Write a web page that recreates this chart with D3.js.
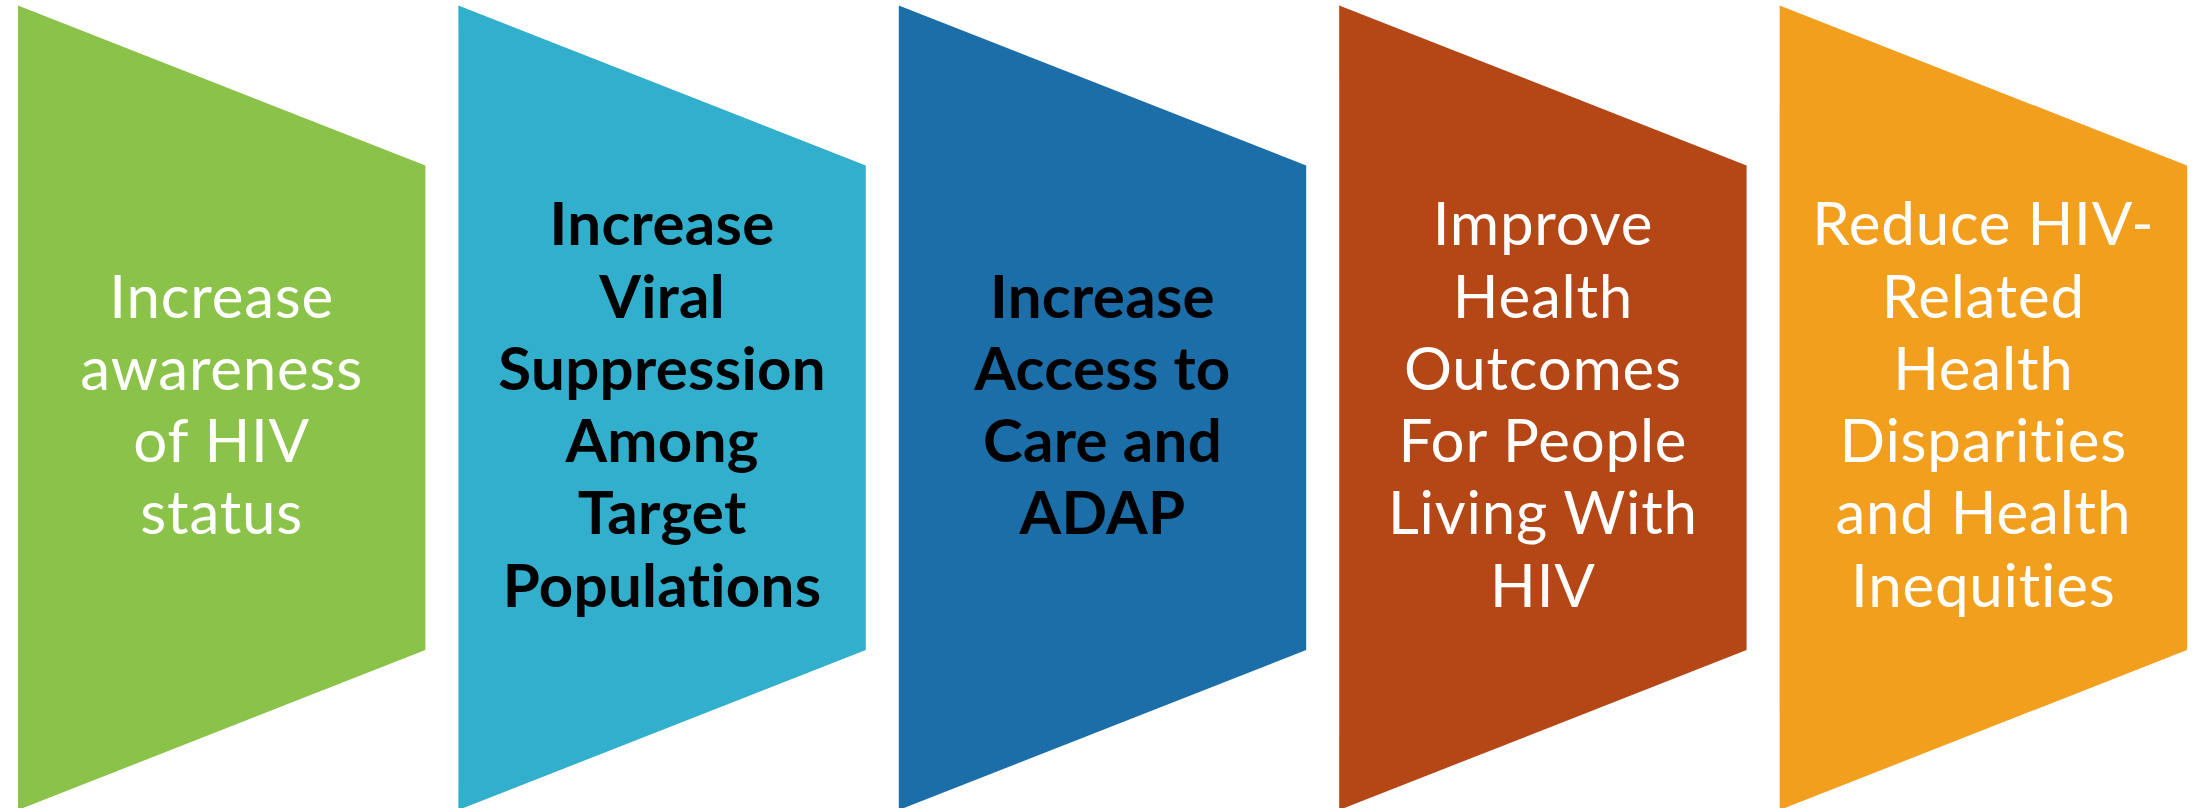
<!DOCTYPE html>
<html>
<head>
<meta charset="utf-8">
<script src="https://cdn.jsdelivr.net/npm/d3@7"></script>
<style>
  html, body { margin: 0; padding: 0; background: #fff; overflow: hidden; }
  svg { display: block; }
  text { font-variant-ligatures: none; font-feature-settings: "liga" 0; }
</style>
</head>
<body>
<div id="chart"></div>
<script>
// steps of the strategy, left to right
const steps = ["awareness", "suppression", "access", "outcomes", "disparities"]
const stepLines = [
  ["Increase", "awareness", "of HIV", "status"],
  ["Increase", "Viral", "Suppression", "Among", "Target", "Populations"],
  ["Increase", "Access to", "Care and", "ADAP"],
  ["Improve", "Health", "Outcomes", "For People", "Living With", "HIV"],
  ["Reduce HIV-", "Related", "Health", "Disparities", "and Health", "Inequities"]
]
const stepColors = ["#8bc34a", "#32afcd", "#1c6ea8", "#b54717", "#f19f1d"]
const textColors = ["#ffffff", "#000000", "#000000", "#ffffff", "#ffffff"]
const textBold = [false, true, true, false, false]

const width = 2199
const height = 808

const svg = d3.select("#chart")
  .append("svg")
    .attr("width", width)
    .attr("height", height)

const x = d3.scaleBand()
  .domain(steps)
  .range([18, 2187])
  .paddingInner(0.075)
  .paddingOuter(0)

// shape geometry: tall left edge, shorter right edge
const shapeTop = 5.5
const shapeBottom = 810
const slant = 160
const lineHeight = 72.3
const textMid = 426

const groups = svg.selectAll("g.step")
  .data(steps)
  .enter()
  .append("g")
    .attr("class", "step")
    .attr("transform", d => `translate(${x(d)},0)`)

groups.append("path")
  .attr("d", () => {
    const w = x.bandwidth()
    return d3.line()([
      [0, shapeTop],
      [w, shapeTop + slant],
      [w, shapeBottom - slant],
      [0, shapeBottom]
    ]) + "Z"
  })
  .attr("fill", (d, i) => stepColors[i])

groups.each(function(d, i) {
  const lines = stepLines[i]
  const text = d3.select(this).append("text")
    .attr("text-anchor", "middle")
    .attr("font-family", "Lato, 'Open Sans', sans-serif")
    .attr("font-size", 60)
    .attr("font-weight", textBold[i] ? 700 : 400)
    .attr("letter-spacing", textBold[i] ? 0.3 : 0.8)
    .attr("fill", textColors[i])

  text.selectAll("tspan")
    .data(lines)
    .enter()
    .append("tspan")
      .attr("x", x.bandwidth() / 2)
      .attr("y", (l, j) => textMid + (j - (lines.length - 1) / 2) * lineHeight)
      .text(l => l)
})
</script>
</body>
</html>
